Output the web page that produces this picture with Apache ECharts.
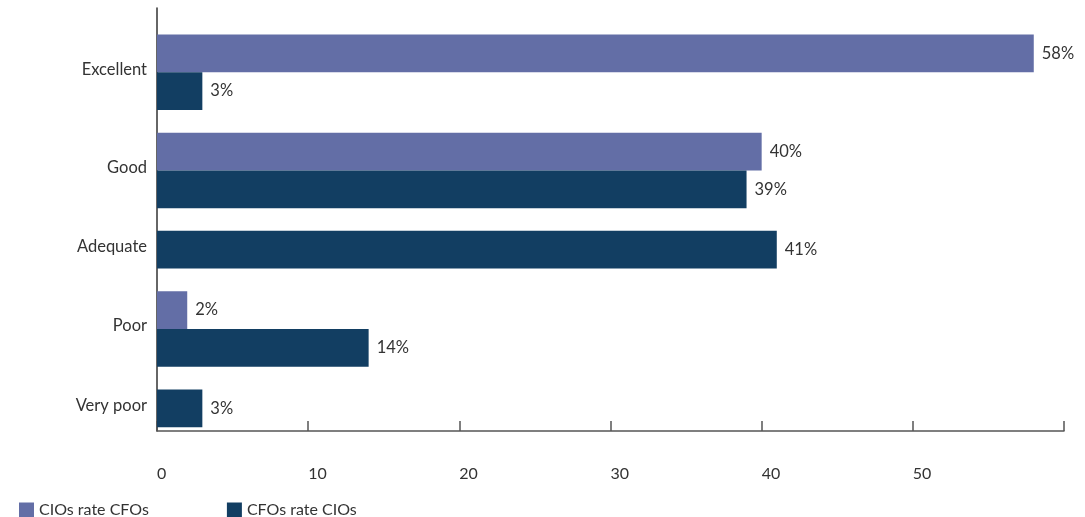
<!DOCTYPE html>
<html>
<head>
<meta charset="utf-8">
<script src="https://cdn.jsdelivr.net/npm/echarts@6/dist/echarts.min.js"></script>
<style>html,body{margin:0;padding:0;background:#fff;}#c{width:1085px;height:517px;}</style>
</head>
<body>
<div id="c"></div>
<script>
const categories = ['Excellent', 'Good', 'Adequate', 'Poor', 'Very poor'];
const seriesNames = ['CIOs rate CFOs', 'CFOs rate CIOs'];
const cioRateCfo = [58, 40, null, 2, null];
const cfoRateCio = [3, 39, 41, 14, 3];
const xTickValues = [0, 10, 20, 30, 40, 50];

const COLORS = ['#636ea6', '#123e62'];
const FONT = 'Lato';
const GAP = 0.6;        // gap between groups, in bar-height units
const TOP_PAD = 0.7;
const BOTTOM_PAD = 0.1;

// lay out bars: groups collapse when a series has no value
const cioData = [], cfoData = [], labelData = [];
let pos = 0;
categories.forEach((c, i) => {
  const start = pos;
  if (cioRateCfo[i] != null) { cioData.push([cioRateCfo[i], pos]); pos += 1; }
  if (cfoRateCio[i] != null) { cfoData.push([cfoRateCio[i], pos]); pos += 1; }
  labelData.push({ value: [0, (start + pos) / 2], name: c });
  pos += GAP;
});
const yMax = pos - GAP + BOTTOM_PAD;

function renderBar(params, api) {
  const v = api.value(0), s = api.value(1);
  const p0 = api.coord([0, s]);
  const p1 = api.coord([v, s + 1]);
  return {
    type: 'group',
    children: [
      { type: 'rect', shape: { x: p0[0], y: p0[1], width: p1[0] - p0[0], height: p1[1] - p0[1] },
        style: { fill: api.visual('color') } },
      { type: 'text', style: { text: v + '%', x: p1[0] + 8, y: (p0[1] + p1[1]) / 2,
        verticalAlign: 'middle', align: 'left', fill: '#333', font: '16.5px ' + FONT } }
    ]
  };
}

function renderLabel(params, api) {
  const p = api.coord([0, api.value(1)]);
  return { type: 'text', style: { text: labelData[params.dataIndex].name, x: p[0] - 10, y: p[1] - 3,
    align: 'right', verticalAlign: 'middle', fill: '#333', font: '16.5px ' + FONT } };
}

const chart = echarts.init(document.getElementById('c'), null, { renderer: 'canvas' });
chart.setOption({
  animation: false,
  textStyle: { fontFamily: FONT },
  grid: { left: 157, right: 21, top: 8, bottom: 86, containLabel: false },
  legend: {
    left: 14, top: 497, itemWidth: 15, itemHeight: 15, itemGap: 78, icon: 'rect',
    data: seriesNames,
    textStyle: { fontSize: 16, color: '#333', fontFamily: FONT }
  },
  xAxis: {
    type: 'value', min: 0, max: 60, interval: 10, position: 'bottom',
    axisLine: { show: true, onZero: false, lineStyle: { color: '#555', width: 1.5 } },
    axisTick: { show: true, inside: true, length: 10, lineStyle: { color: '#555', width: 1.5 } },
    splitLine: { show: false },
    axisLabel: {
      align: 'left', margin: 35, fontSize: 16, color: '#333', fontFamily: FONT,
      formatter: v => xTickValues.indexOf(v) >= 0 ? String(v) : ''
    }
  },
  yAxis: {
    type: 'value', inverse: true, min: -TOP_PAD, max: yMax, position: 'left',
    axisLine: { show: true, onZero: false, lineStyle: { color: '#333', width: 1.5 } },
    axisTick: { show: false }, axisLabel: { show: false }, splitLine: { show: false }
  },
  series: [
    { name: seriesNames[0], type: 'custom', renderItem: renderBar, data: cioData, clip: false,
      itemStyle: { color: COLORS[0] }, encode: { x: 0, y: 1 } },
    { name: seriesNames[1], type: 'custom', renderItem: renderBar, data: cfoData, clip: false,
      itemStyle: { color: COLORS[1] }, encode: { x: 0, y: 1 } },
    { name: 'labels', type: 'custom', renderItem: renderLabel, data: labelData, clip: false,
      encode: { x: 0, y: 1 }, silent: true }
  ]
});
</script>
</body>
</html>
